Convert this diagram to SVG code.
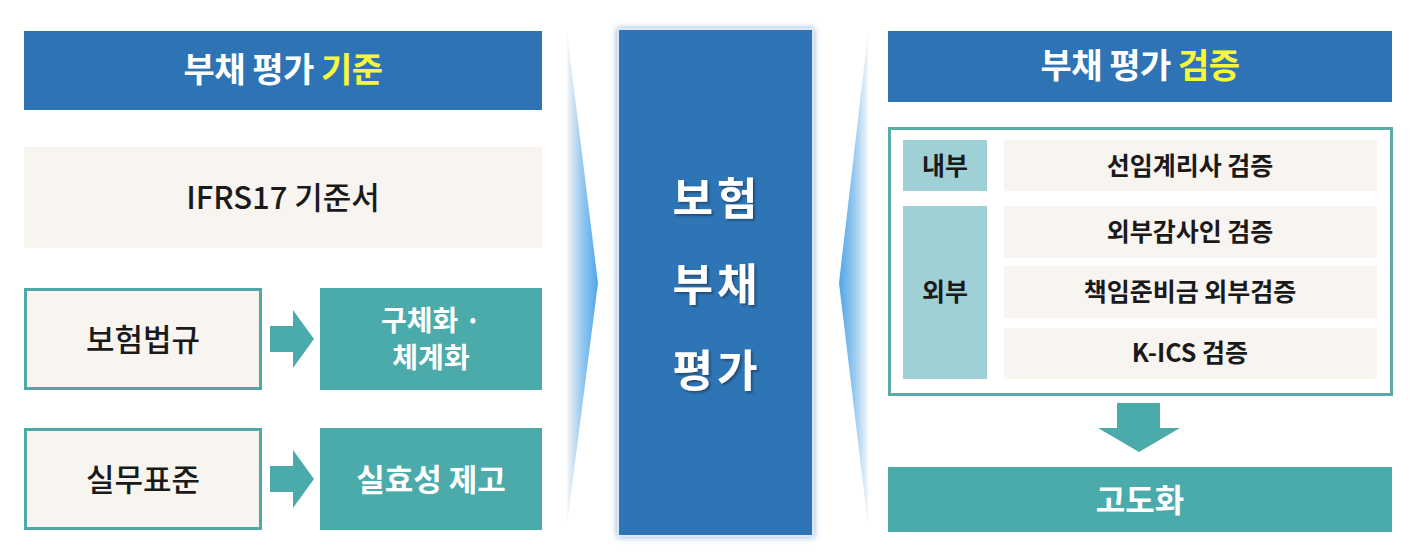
<svg xmlns="http://www.w3.org/2000/svg" width="1428" height="559" viewBox="0 0 1428 559">
<defs>
<style>
text{font-family:"Noto Sans CJK KR","Noto Sans",sans-serif;text-anchor:middle}
.hdr{fill:#2E74B5}
.teal{fill:#4AABAA}
.beige{fill:#F8F4F0}
.lab{fill:#9FD0D5}
.wbox{fill:#F8F4F0;stroke:#4FA9A6;stroke-width:3}
.th{font-size:34px;font-weight:700;fill:#FFFFFF;letter-spacing:-0.5px}
.yel{fill:#F8F83A}
.tw{font-size:31px;font-weight:700;fill:#FFFFFF}
.td{font-size:31px;font-weight:500;fill:#1A1A1A}
.tr{font-size:25px;font-weight:600;fill:#1A1A1A}
.tc{font-size:44px;font-weight:700;fill:#FFFFFF;letter-spacing:4px}
</style>
<linearGradient id="wedgeL" x1="0" y1="0" x2="1" y2="0">
<stop offset="0" stop-color="#F4F6F8"/>
<stop offset="0.45" stop-color="#9CCBF0"/>
<stop offset="1" stop-color="#4FA5E8"/>
</linearGradient>
<linearGradient id="wedgeR" x1="1" y1="0" x2="0" y2="0">
<stop offset="0" stop-color="#F4F6F8"/>
<stop offset="0.45" stop-color="#9CCBF0"/>
<stop offset="1" stop-color="#4FA5E8"/>
</linearGradient>
<filter id="glow" x="-10%" y="-5%" width="120%" height="110%">
<feDropShadow dx="0" dy="0" stdDeviation="3" flood-color="#7FA8D8" flood-opacity="0.9"/>
</filter>
<filter id="tshadow" x="-20%" y="-20%" width="140%" height="140%">
<feDropShadow dx="2" dy="2" stdDeviation="1" flood-color="#1B3A5E" flood-opacity="0.7"/>
</filter>
</defs>
<rect width="1428" height="559" fill="#FFFFFF"/>

<g id="connectors">
<polygon points="567,33 598,283 567,525" fill="url(#wedgeL)"/>
<polygon points="868,33 839,283 868,525" fill="url(#wedgeR)"/>
<polygon class="teal" points="270,326 293,326 293,310 314,339 293,368 293,352 270,352"/>
<polygon class="teal" points="270,466 293,466 293,450 314,479 293,508 293,492 270,492"/>
<polygon class="teal" points="1117,403 1160,403 1160,428 1180,428 1139,452 1098,428 1117,428"/>
</g>

<g id="left-header">
<rect class="hdr" x="24" y="31" width="518" height="79"/>
<text class="th" x="283" y="82">부채 평가 <tspan class="yel">기준</tspan></text>
</g>
<g id="ifrs17">
<rect class="beige" x="24" y="147" width="518" height="101"/>
<text class="td" x="283" y="209">IFRS17 기준서</text>
</g>
<g id="insurance-law">
<rect class="wbox" x="25.5" y="289.5" width="235" height="99"/>
<text class="td" x="143" y="351">보험법규</text>
</g>
<g id="concretize">
<rect class="teal" x="320" y="288" width="222" height="102"/>
<text class="tw" x="431" y="331" style="font-size:28px">구체화 ·</text>
<text class="tw" x="431" y="368" style="font-size:28px">체계화</text>
</g>
<g id="practice-standard">
<rect class="wbox" x="25.5" y="429.5" width="235" height="99"/>
<text class="td" x="143" y="491">실무표준</text>
</g>
<g id="effectiveness">
<rect class="teal" x="320" y="428" width="222" height="102"/>
<text class="tw" x="431" y="491">실효성 제고</text>
</g>

<g id="center">
<rect x="618" y="29" width="195" height="507" fill="#2E75B6" stroke="#DCEAF7" stroke-width="2" filter="url(#glow)"/>
<g filter="url(#tshadow)">
<text class="tc" x="717" y="215">보험</text>
<text class="tc" x="717" y="301">부채</text>
<text class="tc" x="717" y="387">평가</text>
</g>
</g>

<g id="right-header">
<rect class="hdr" x="888" y="31" width="504" height="71"/>
<text class="th" x="1140" y="78">부채 평가 <tspan class="yel">검증</tspan></text>
</g>
<g id="verification">
<rect x="889.5" y="128.5" width="502" height="266" fill="#FFFFFF" stroke="#5AAAA6" stroke-width="3"/>
</g>
<g id="internal">
<rect class="lab" x="903" y="140" width="84" height="51"/>
<text class="tr" x="945" y="175">내부</text>
</g>
<g id="actuary">
<rect class="beige" x="1004" y="140" width="373" height="51"/>
<text class="tr" x="1190" y="175">선임계리사 검증</text>
</g>
<g id="external">
<rect class="lab" x="903" y="206" width="84" height="173"/>
<text class="tr" x="945" y="301">외부</text>
</g>
<g id="auditor">
<rect class="beige" x="1004" y="206" width="373" height="52"/>
<text class="tr" x="1190" y="241">외부감사인 검증</text>
</g>
<g id="reserve">
<rect class="beige" x="1004" y="266" width="373" height="52"/>
<text class="tr" x="1190" y="301">책임준비금 외부검증</text>
</g>
<g id="kics">
<rect class="beige" x="1004" y="328" width="373" height="51"/>
<text class="tr" x="1190" y="362">K-ICS 검증</text>
</g>
<g id="advancement">
<rect class="teal" x="888" y="467" width="504" height="65"/>
<text class="tw" x="1140" y="512" style="font-size:32px">고도화</text>
</g>
</svg>
